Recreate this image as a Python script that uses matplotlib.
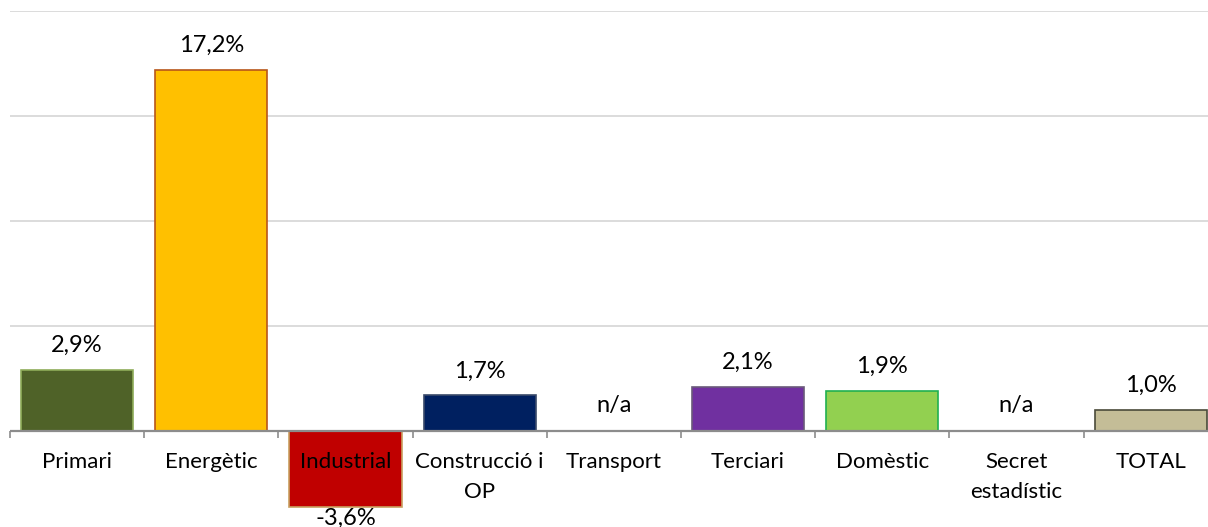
import numpy as np
import matplotlib
matplotlib.use("Agg")
import matplotlib.pyplot as plt

categories = ["Primari", "Energètic", "Industrial", "Construcció i\nOP", "Transport",
              "Terciari", "Domèstic", "Secret\nestadístic", "TOTAL"]
values = [2.9, 17.2, -3.6, 1.7, np.nan, 2.1, 1.9, np.nan, 1.0]
labels = ["2,9%", "17,2%", "-3,6%", "1,7%", "n/a", "2,1%", "1,9%", "n/a", "1,0%"]
face_colors = ["#4f6228", "#ffc000", "#c00000", "#002060", "#ffffff",
               "#7030a0", "#92d050", "#ffffff", "#c4bd97"]
edge_colors = ["#8fad5a", "#b8561a", "#c8a060", "#3a4a6a", "#ffffff",
               "#6a5a7a", "#20b050", "#ffffff", "#4a4a3a"]
gridlines = [5, 10, 15, 20]

plt.rcParams['font.family'] = ['Lato', 'DejaVu Sans']

W, H = 1208, 527
fig = plt.figure(figsize=(W / 100, H / 100), dpi=100)
left = 10 / W
width = 9 * 134.2 / W
top_px, bot_px = 11, 536
ax = fig.add_axes([left, 1 - bot_px / H, width, (bot_px - top_px) / H])
ax.set_xlim(-0.5, 8.5)
ax.set_ylim(-5, 20)

for s in ax.spines.values():
    s.set_visible(False)
ax.spines["bottom"].set_position(("data", 0))

for g in gridlines:
    ax.axhline(g, color="#d9d9d9", lw=1.3, zorder=0)

x = np.arange(len(categories))
vals = np.nan_to_num(np.array(values, dtype=float))
ax.bar(x, vals, width=0.835, color=face_colors, edgecolor=edge_colors, linewidth=1.2, zorder=1)

ax.axhline(0, color="#8c8c8c", lw=1.6, zorder=2)

fs = 16
vfs = 17
for xi, v, lab in zip(x, values, labels):
    if np.isnan(v):
        ax.annotate(lab, (xi, 0), xytext=(0, 11), textcoords="offset points",
                    ha="center", va="bottom", fontsize=vfs, color="#000000")
    elif v >= 0:
        ax.annotate(lab, (xi, v), xytext=(0, 10), textcoords="offset points",
                    ha="center", va="bottom", fontsize=vfs, color="#000000")
    else:
        ax.annotate(lab, (xi, v), xytext=(0, -1), textcoords="offset points",
                    ha="center", va="top", fontsize=vfs, color="#000000")

ax.set_yticks([])
ax.set_xticks(x)
ax.set_xticklabels(categories, fontsize=fs, linespacing=1.65)
ax.tick_params(axis="x", which="major", length=0, pad=15)
ax.set_xticks(np.arange(-0.5, 9.0, 1.0), minor=True)
ax.tick_params(axis="x", which="minor", length=5, width=1.2, color="#8c8c8c", direction="out")

fig.savefig("out.png", dpi=100)
